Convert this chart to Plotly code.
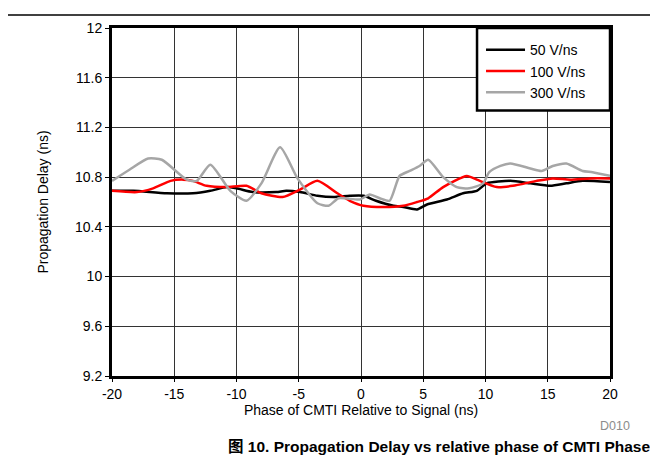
import plotly.graph_objects as go

# Data
x_50 = [-20, -18.3, -15.6, -13.5, -12.1, -10.8, -10, -8.7, -6.8, -6, -4.9, -3.5, -2.2, -0.9, 0.2, 1.2, 2.6, 3.4, 4.5, 5.3, 6.9, 8.2, 9.3, 10.1, 12, 13.6, 15.2, 16.5, 17.8, 20]
y_50 = [10.69, 10.69, 10.67, 10.67, 10.69, 10.72, 10.71, 10.68, 10.68, 10.69, 10.68, 10.65, 10.64, 10.65, 10.65, 10.61, 10.57, 10.56, 10.54, 10.58, 10.62, 10.67, 10.69, 10.75, 10.77, 10.75, 10.73, 10.75, 10.77, 10.76]

x_100 = [-20, -18, -16.7, -15.3, -14.3, -13.5, -12.4, -10.8, -9.2, -8, -6.3, -4.9, -3.5, -1.9, -0.9, 0.2, 1.8, 3.4, 4.5, 5.4, 6.6, 8.5, 9.3, 10.9, 12.2, 14.1, 15.4, 16.8, 18.4, 20]
y_100 = [10.69, 10.68, 10.71, 10.77, 10.78, 10.77, 10.73, 10.72, 10.73, 10.67, 10.64, 10.70, 10.77, 10.67, 10.61, 10.57, 10.56, 10.57, 10.60, 10.63, 10.72, 10.81, 10.78, 10.72, 10.73, 10.77, 10.79, 10.78, 10.79, 10.79]

x_300 = [-20, -18.6, -17.1, -16, -14, -13.2, -12.1, -10.5, -9.2, -8, -6.5, -5.1, -3.5, -2.6, -1.8, -0.1, 0.7, 1.5, 2.3, 3.1, 3.9, 4.7, 5.4, 6.6, 7.7, 8.7, 9.8, 10.3, 11.2, 12, 13.6, 14.5, 15.4, 16.5, 17.8, 18.6, 20]
y_300 = [10.77, 10.86, 10.95, 10.94, 10.78, 10.77, 10.90, 10.69, 10.61, 10.75, 11.04, 10.79, 10.59, 10.57, 10.63, 10.62, 10.66, 10.63, 10.61, 10.81, 10.85, 10.89, 10.94, 10.80, 10.72, 10.71, 10.75, 10.84, 10.89, 10.91, 10.87, 10.85, 10.89, 10.91, 10.85, 10.84, 10.81]

series_names = ["50 V/ns", "100 V/ns", "300 V/ns"]
x_ticks = [-20, -15, -10, -5, 0, 5, 10, 15, 20]
x_tick_text = ["-20", "-15", "-10", "-5", "0", "5", "10", "15", "20"]
y_ticks = [9.2, 9.6, 10, 10.4, 10.8, 11.2, 11.6, 12]
y_tick_text = ["9.2", "9.6", "10", "10.4", "10.8", "11.2", "11.6", "12"]

FONT = "Liberation Sans, Arial, Noto Sans CJK SC, sans-serif"

fig = go.Figure()
for xs, ys, name, color in [
    (x_50, y_50, series_names[0], "#000000"),
    (x_100, y_100, series_names[1], "#FF0000"),
    (x_300, y_300, series_names[2], "#A6A6A6"),
]:
    fig.add_trace(go.Scatter(
        x=xs, y=ys, name=name, mode="lines",
        line=dict(color=color, width=2.5, shape="spline", smoothing=0.6),
    ))

fig.update_layout(
    width=658, height=470,
    margin=dict(l=104, r=56, t=14, b=102),
    paper_bgcolor="white", plot_bgcolor="white",
    font=dict(family=FONT, size=14, color="black"),
    showlegend=True,
    legend=dict(
        x=0.741, xanchor="left", y=0.982, yanchor="top",
        borderwidth=0, bgcolor="rgba(0,0,0,0)",
        font=dict(size=14), tracegroupgap=0,
        itemwidth=39,
    ),
    xaxis=dict(
        range=[-20, 20], tickmode="array", tickvals=x_ticks, ticktext=x_tick_text,
        showgrid=True, gridcolor="#333333", gridwidth=1,
        showline=True, linecolor="black", linewidth=3, mirror=True,
        ticks="outside", ticklen=3, tickcolor="black",
        zeroline=False,
        title=dict(text="Phase of CMTI Relative to Signal (ns)", standoff=2, font=dict(size=14)),
    ),
    yaxis=dict(
        range=[9.2, 12], tickmode="array", tickvals=y_ticks, ticktext=y_tick_text,
        showgrid=True, gridcolor="#333333", gridwidth=1,
        showline=True, linecolor="black", linewidth=3, mirror=True,
        ticks="outside", ticklen=4, tickcolor="black",
        zeroline=False,
        title=dict(text="Propagation Delay (ns)", standoff=24, font=dict(size=14)),
    ),
)

# legend frame (white box hiding the grid, thick black border)
fig.add_shape(type="rect", xref="paper", yref="paper", x0=0.733, x1=1.0, y0=0.763, y1=1.0,
              fillcolor="white", line=dict(color="black", width=2.5), layer="above")

# top rule of the page
fig.add_shape(type="line", xref="paper", yref="paper", x0=-0.23, x1=1.15, y0=1.037, y1=1.037,
              line=dict(color="black", width=1.5))

fig.add_annotation(text="D010", xref="paper", yref="paper", x=1.044, y=-0.145,
                   xanchor="right", yanchor="middle", showarrow=False,
                   font=dict(size=12.5, color="#8C8C8C"))
fig.add_annotation(text="<b>图 10. Propagation Delay vs relative phase of CMTI Phase</b>",
                   xref="paper", yref="paper", x=1.084, y=-0.203,
                   xanchor="right", yanchor="middle", showarrow=False,
                   font=dict(size=15.5, color="black"))

fig.write_html("out.html")
